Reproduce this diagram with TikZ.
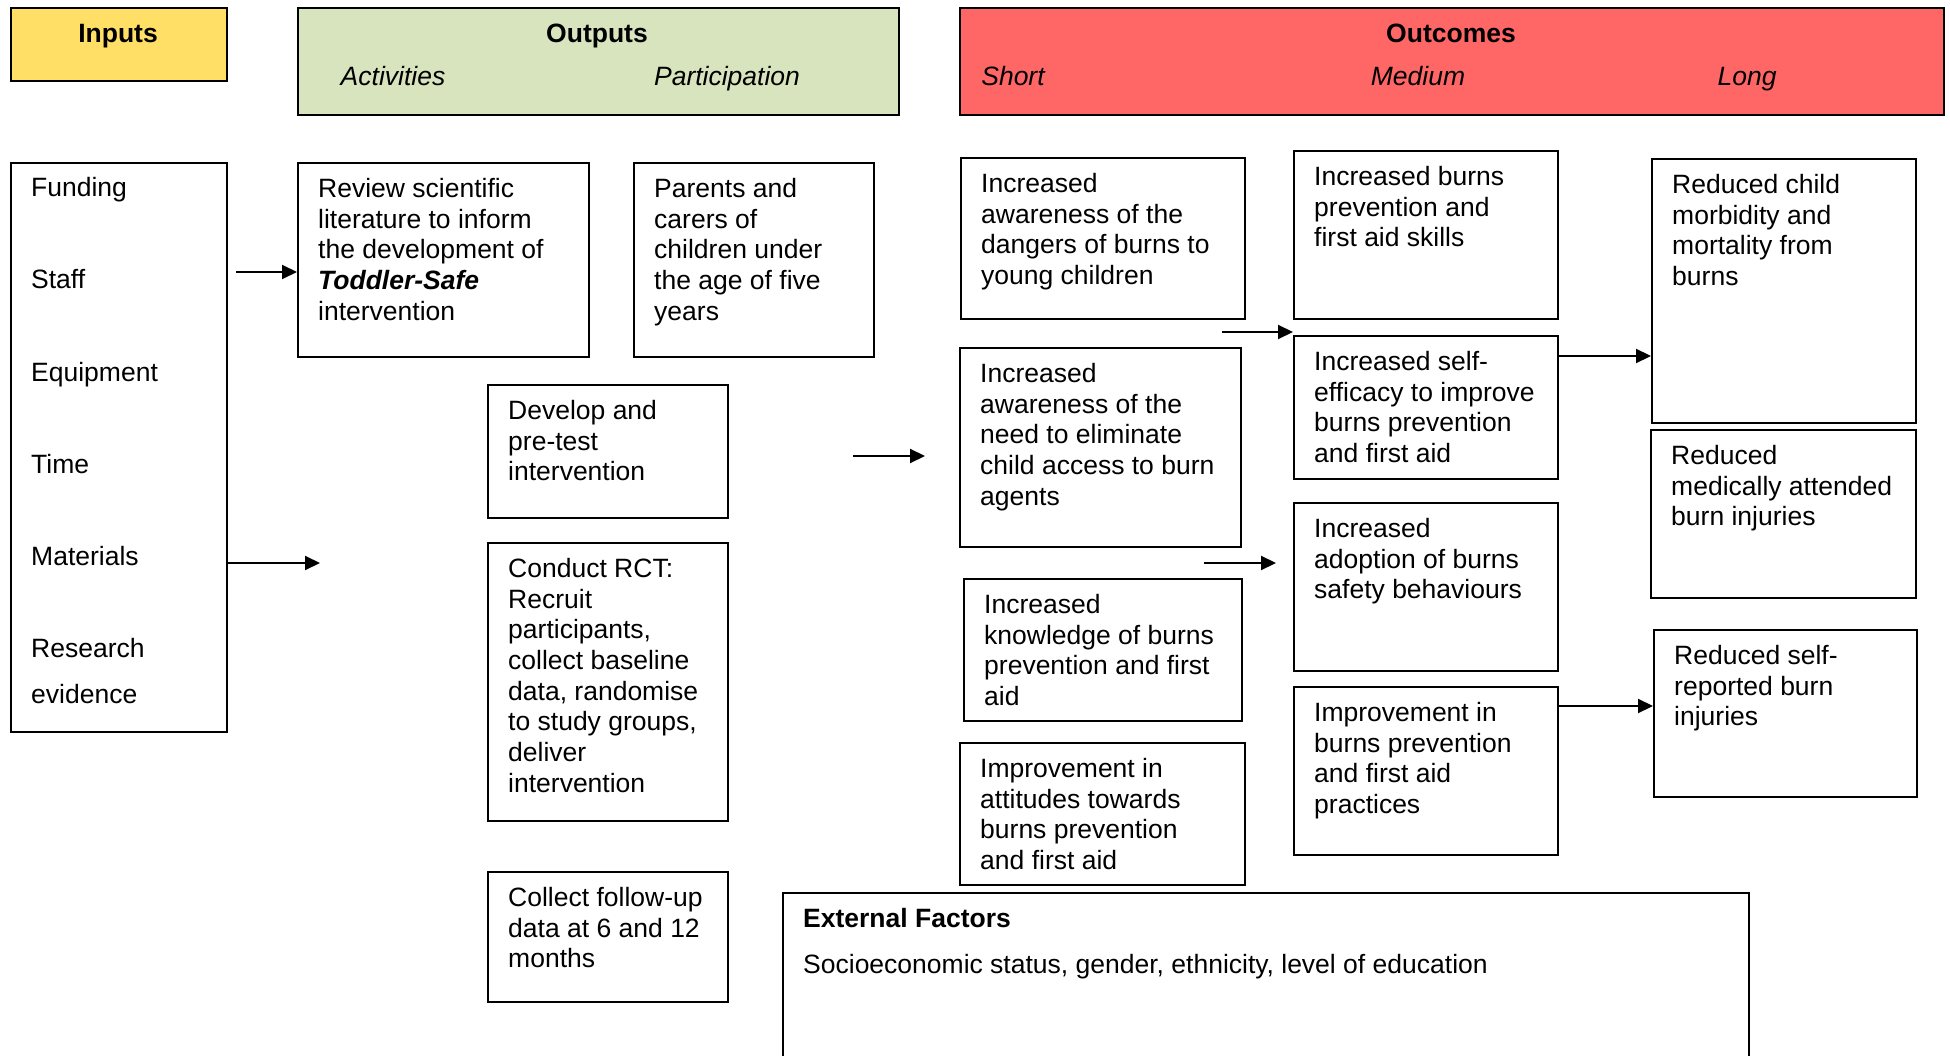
\documentclass[tikz,border=0pt]{standalone}
\usepackage{fontspec}
\setmainfont{Liberation Sans}
\usetikzlibrary{arrows.meta}
\definecolor{inyel}{HTML}{FFDF66}
\definecolor{outgrn}{HTML}{D7E4BD}
\definecolor{ocred}{HTML}{FF6666}
\newcommand{\bodyfont}{\fontsize{26.5}{30.7}\selectfont}
\newcommand{\tbox}[6]{%
  \node[boxst, minimum width=#4pt, minimum height=#5pt] (#1) at (#2,#3) {};
  \node[txtst] (#1t) at ([xshift=21pt,yshift=-16pt]#1.north west) {#6};}
\tikzset{
  boxst/.style={draw=black, line width=1.6pt, anchor=north west, inner sep=0pt},
  hdrst/.style={boxst},
  txtst/.style={anchor=north west, inner sep=0pt, align=left, font=\bodyfont},
  lblst/.style={inner sep=0pt, font=\bodyfont},
  hlbl/.style={inner sep=0pt, anchor=base},
  arr/.style={line width=2pt, -{Triangle[length=15pt,width=14pt]}}
}
\begin{document}
\begin{tikzpicture}[x=1pt,y=-1pt]
\useasboundingbox (0,0) rectangle (1950,1056);
% headers
\node[hdrst, fill=inyel, minimum width=216pt, minimum height=73pt] (hin) at (10,7) {};
\node[hlbl, font=\bodyfont\bfseries] (hint) at (118,43) {Inputs};
\node[hdrst, fill=outgrn, minimum width=601pt, minimum height=107pt] (hout) at (297,7) {};
\node[hlbl, font=\bodyfont\bfseries] (houtt) at (597,43) {Outputs};
\node[hlbl, font=\bodyfont\itshape] (hact) at (393,86) {Activities};
\node[hlbl, font=\bodyfont\itshape] (hpar) at (727,86) {Participation};
\node[hdrst, fill=ocred, minimum width=984pt, minimum height=107pt] (hoc) at (959,7) {};
\node[hlbl, font=\bodyfont\bfseries] (hoct) at (1451,43) {Outcomes};
\node[hlbl, font=\bodyfont\itshape] (hsh) at (1013,86) {Short};
\node[hlbl, font=\bodyfont\itshape] (hme) at (1418,86) {Medium};
\node[hlbl, font=\bodyfont\itshape] (hlo) at (1747,86) {Long};
% inputs
\node[boxst, minimum width=216pt, minimum height=569pt] (inl) at (10,162) {};
\node[lblst, anchor=base west] (in1) at (31,197) {Funding};
\node[lblst, anchor=base west] (in2) at (31,289) {Staff};
\node[lblst, anchor=base west] (in3) at (31,381) {Equipment};
\node[lblst, anchor=base west] (in4) at (31,473) {Time};
\node[lblst, anchor=base west] (in5) at (31,565) {Materials};
\node[lblst, anchor=base west] (in6) at (31,657) {Research};
\node[lblst, anchor=base west] (in7) at (31,703) {evidence};
% outputs
\tbox{rev}{297}{162}{291}{194}{Review scientific\\literature to inform\\the development of\\\textbf{\textit{Toddler-Safe}}\\intervention}
\tbox{par}{633}{162}{240}{194}{Parents and\\carers of\\children under\\the age of five\\years}
\tbox{dev}{487}{384}{240}{133}{Develop and\\pre-test\\intervention}
\tbox{rct}{487}{542}{240}{278}{Conduct RCT:\\Recruit\\participants,\\collect baseline\\data, randomise\\to study groups,\\deliver\\intervention}
\tbox{fol}{487}{871}{240}{130}{Collect follow-up\\data at 6 and 12\\months}
% short
\tbox{s1}{960}{157}{284}{161}{Increased\\awareness of the\\dangers of burns to\\young children}
\tbox{s2}{959}{347}{281}{199}{Increased\\awareness of the\\need to eliminate\\child access to burn\\agents}
\tbox{s3}{963}{578}{278}{142}{Increased\\knowledge of burns\\prevention and first\\aid}
\tbox{s4}{959}{742}{285}{142}{Improvement in\\attitudes towards\\burns prevention\\and first aid}
% medium
\tbox{m1}{1293}{150}{264}{168}{Increased burns\\prevention and\\first aid skills}
\tbox{m2}{1293}{335}{264}{143}{Increased self-\\efficacy to improve\\burns prevention\\and first aid}
\tbox{m3}{1293}{502}{264}{168}{Increased\\adoption of burns\\safety behaviours}
\tbox{m4}{1293}{686}{264}{168}{Improvement in\\burns prevention\\and first aid\\practices}
% long
\tbox{l1}{1651}{158}{264}{264}{Reduced child\\morbidity and\\mortality from\\burns}
\tbox{l2}{1650}{429}{265}{168}{Reduced\\medically attended\\burn injuries}
\tbox{l3}{1653}{629}{263}{167}{Reduced self-\\reported burn\\injuries}
% external
\node[boxst, minimum width=966pt, minimum height=180pt] (ext) at (782,892) {};
\node[txtst, font=\bodyfont\bfseries] (extt) at ([xshift=21pt,yshift=-16pt]ext.north west) {External Factors};
\node[txtst] (exts) at ([xshift=21pt,yshift=-62pt]ext.north west) {Socioeconomic status, gender, ethnicity, level of education};
% arrows
\coordinate (a1s) at (236,272);
\draw[arr] (a1s) -- (a1s -| rev.west);
\coordinate (a2e) at (320,563);
\draw[arr] (a2e -| inl.east) -- (a2e);
\coordinate (a3s) at (853,456);
\coordinate (a3e) at (925,456);
\draw[arr] (a3s) -- (a3e);
\coordinate (a4s) at (1222,332);
\draw[arr] (a4s) -- (a4s -| m2.west);
\coordinate (a5s) at (1204,563);
\coordinate (a5e) at (1276,563);
\draw[arr] (a5s) -- (a5e);
\coordinate (a6) at (0,356);
\draw[arr] (a6 -| m2.east) -- (a6 -| l1.west);
\coordinate (a7) at (0,706);
\draw[arr] (a7 -| m4.east) -- (a7 -| l3.west);
\end{tikzpicture}
\end{document}
